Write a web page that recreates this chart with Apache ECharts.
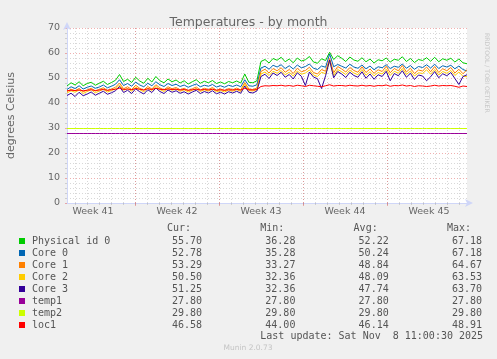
<!DOCTYPE html>
<html><head><meta charset="utf-8">
<script src="https://cdn.jsdelivr.net/npm/echarts@6/dist/echarts.min.js"></script>
<style>html,body{margin:0;padding:0;background:#f0f0f0}#c{width:497px;height:359px}</style>
</head><body><div id="c"></div>
<script>
// ---------- data ----------
const seriesNames = ['Physical id 0','Core 0','Core 1','Core 2','Core 3','temp1','temp2','loc1'];
const seriesColors = ['#00CC00','#0066B3','#FF8000','#FFCC00','#330099','#990099','#CCFF00','#FF0000'];

const physical = [46.8,48.1,47.2,48.5,46.9,47.8,48.3,47.1,47.9,48.7,47.4,48.2,49.1,51.4,48.6,49.5,48.2,50.3,48.8,47.9,49.9,48.4,50.6,48.9,48.1,49.6,48.5,49.2,48.0,48.9,47.6,48.5,49.3,47.9,48.7,48.1,49.0,47.8,48.4,47.7,48.6,48.1,48.8,48.0,51.6,48.3,48.1,48.9,
  56.6,57.4,56.0,57.8,57.1,58.3,56.5,57.6,56.1,58.0,56.8,57.3,58.6,56.4,55.9,57.7,57.0,60.3,57.4,58.9,57.9,56.6,58.4,57.2,56.7,58.1,56.5,57.6,56.0,57.3,56.9,58.0,56.4,57.5,57.1,58.5,56.6,57.8,56.2,57.4,57.0,58.1,56.7,58.3,56.5,57.7,57.1,57.9,56.4,57.6,56.1,55.7];
const core0 = [45.4,46.5,45.8,46.9,45.6,46.3,46.8,45.9,46.4,47.2,46.1,46.7,47.5,49.3,47.0,47.8,46.7,48.4,47.2,46.5,47.9,46.9,48.5,47.3,46.6,47.8,47.0,47.5,46.6,47.2,46.3,47.0,47.6,46.5,47.1,46.7,47.4,46.4,46.9,46.3,47.1,46.6,47.2,46.5,49.3,46.9,46.7,47.3,
  54.0,54.7,53.5,55.1,54.4,55.3,53.8,54.9,53.6,55.2,54.1,54.6,55.6,53.9,53.4,54.8,54.3,59.6,54.5,55.4,54.7,54.0,55.5,54.4,53.9,55.2,53.7,54.8,53.3,54.5,54.1,55.3,53.8,54.7,54.3,55.6,53.9,55.0,53.5,54.6,54.2,55.3,54.0,55.5,53.8,54.9,54.4,55.1,53.7,54.8,53.4,52.8];
const core1 = [44.6,45.5,44.9,45.8,44.5,45.2,45.9,44.8,45.4,46.1,45.0,45.6,46.3,48.0,45.7,46.5,45.4,47.1,45.9,45.2,46.6,45.6,47.3,46.0,45.3,46.5,45.7,46.2,45.3,45.9,45.0,45.7,46.4,45.2,45.9,45.4,46.2,45.1,45.6,45.0,45.8,45.3,46.0,45.2,48.2,45.6,45.4,46.0,
  52.6,53.5,52.0,53.8,52.9,54.1,52.3,53.4,51.8,53.9,52.5,53.0,54.3,52.2,51.6,53.4,52.7,57.8,52.1,54.6,53.6,52.4,54.2,53.0,52.3,54.5,52.2,53.6,51.9,53.3,52.6,54.7,52.1,53.8,52.9,55.0,52.4,53.9,51.8,53.2,52.8,54.4,52.5,54.6,52.2,53.7,52.9,54.2,52.0,53.5,51.7,53.3];
const core2 = [44.0,44.9,44.3,45.2,43.8,44.6,45.3,44.1,44.8,45.5,44.4,45.0,45.7,47.2,45.1,45.8,44.7,46.4,45.3,44.5,46.0,45.0,46.6,45.4,44.6,45.9,45.1,45.6,44.7,45.3,44.4,45.1,45.8,44.6,45.3,44.8,45.6,44.5,45.0,44.4,45.2,44.7,45.4,44.6,47.5,45.0,44.8,45.4,
  51.6,52.4,51.0,52.7,51.9,53.0,51.3,52.3,50.8,52.8,51.5,52.0,53.2,51.2,50.6,52.3,51.7,56.5,51.0,53.4,52.5,51.4,53.1,52.0,51.3,53.4,51.1,52.5,50.9,52.2,51.6,53.5,51.0,52.7,51.9,53.8,51.4,52.8,50.8,52.1,51.8,53.3,51.5,53.4,51.2,52.6,51.9,53.0,51.0,52.4,50.7,50.5];
const core3 = [43.0,43.9,42.6,44.3,42.9,43.6,44.4,43.1,43.9,44.7,43.5,44.1,44.9,46.6,44.2,45.1,43.8,45.7,44.5,43.6,45.3,44.2,46.0,44.6,43.8,45.2,44.3,44.9,43.9,44.5,43.6,44.4,45.1,43.8,44.6,44.0,44.9,43.7,44.3,43.6,44.5,44.0,44.7,43.9,46.8,44.3,44.0,44.8,
  50.6,51.5,49.8,52.0,51.0,52.3,50.3,51.4,49.6,52.1,50.7,47.0,52.4,50.4,49.7,45.8,50.9,57.2,50.1,52.6,51.6,50.2,52.3,51.0,50.3,52.5,49.9,51.6,49.5,51.3,50.6,52.7,48.9,51.8,50.9,52.9,50.3,51.9,49.4,51.2,50.8,48.9,50.5,52.6,50.1,51.7,50.9,52.2,49.8,47.4,50.6,51.3];
const temp1Level = 27.8;
const temp2Level = 29.8;
const loc1 = [44.9,45.1,45.0,45.2,44.9,45.1,45.3,45.0,45.2,45.4,45.1,45.3,45.5,45.9,45.4,45.6,45.3,45.8,45.5,45.2,45.7,45.4,45.9,45.5,45.3,45.6,45.4,45.5,45.2,45.4,45.1,45.3,45.5,45.2,45.4,45.2,45.5,45.1,45.3,45.1,45.3,45.2,45.4,45.2,45.9,45.3,45.2,45.4,
  46.6,46.9,46.8,47.0,46.9,47.1,46.8,47.0,46.7,47.1,46.9,46.6,47.1,46.9,46.7,46.5,46.9,47.3,46.8,47.0,47.0,46.8,47.1,46.9,46.8,47.1,46.8,47.0,46.7,47.0,46.9,47.2,46.7,47.0,46.9,47.2,46.8,47.0,46.6,46.9,46.8,46.6,46.8,47.1,46.8,47.0,46.9,47.0,46.7,46.3,46.8,46.6];

const curVals = ['55.70','52.78','53.29','50.50','51.25','27.80','29.80','46.58'];
const minVals = ['36.28','35.28','33.27','32.36','32.36','27.80','29.80','44.00'];
const avgVals = ['52.22','50.24','48.84','48.09','47.74','27.80','29.80','46.14'];
const maxVals = ['67.18','67.18','64.67','63.53','63.70','27.80','29.80','48.91'];
const statHeaders = ['Cur:','Min:','Avg:','Max:'];

const weekLabels = ['Week 41','Week 42','Week 43','Week 44','Week 45'];
const spanHours = 800;        // hours shown on the x axis
const firstWeekStart = 136;   // hours from left edge to first week boundary
const yMax = 70, yStep = 10;

// ---------- build ----------
const N = physical.length;
const hours = physical.map((_, i) => i * spanHours / (N - 1));
const temp1 = physical.map(() => temp1Level);
const temp2 = physical.map(() => temp2Level);
const allValues = [physical, core0, core1, core2, core3, temp1, temp2, loc1];

const midnights = [];
for (let h = firstWeekStart % 24; h <= spanHours; h += 24) midnights.push(h);
const weekStarts = [];
for (let h = firstWeekStart; h <= spanHours; h += 168) weekStarts.push(h);
const labelPos = weekLabels.map((_, i) => firstWeekStart - 84 + i * 168);

const sans = 'DejaVu Sans';
const mono = 'DejaVu Sans Mono';
const fontColor = '#666666';
const minorGrid = 'rgba(143,143,143,0.35)';
const majorGrid = 'rgba(222,79,79,0.45)';
const axisColor = '#CFD6F8';

const gridLeft = 67, gridTop = 28, gridW = 400, gridH = 175;
const legLeft = 14, legTop = 230, nameColW = 140, statColW = 93.3;
const colX0 = legLeft + 6 + 5 + 2 + nameColW;

const chart = echarts.init(document.getElementById('c'), null, {renderer: 'canvas'});
const option = {
  animation: false,
  backgroundColor: '#F0F0F0',
  title: {
    text: 'Temperatures - by month', left: 'center', top: 11,
    textStyle: {fontFamily: sans, fontSize: 12.5, fontWeight: 'normal', color: fontColor}
  },
  grid: {left: gridLeft, top: gridTop, width: gridW, height: gridH, show: true, backgroundColor: '#FFFFFF', borderWidth: 0,
         containLabel: false, outerBoundsMode: 'none'},
  xAxis: [
    {
      type: 'value', min: 0, max: spanHours, position: 'bottom',
      axisLine: {show: true, onZero: false, lineStyle: {color: axisColor}, symbol: ['none', 'arrow'], symbolSize: [6, 8], symbolOffset: [0, 6]},
      axisTick: {show: true, customValues: midnights, length: 2, lineStyle: {color: minorGrid}},
      axisLabel: {show: false},
      splitLine: {show: true, lineStyle: {color: minorGrid, type: [1, 2], width: 1}}
    },
    {
      type: 'value', min: 0, max: spanHours, position: 'bottom',
      axisLine: {show: false, onZero: false},
      axisTick: {show: true, customValues: weekStarts, length: 3, lineStyle: {color: majorGrid}},
      axisLabel: {show: false},
      splitLine: {show: true, lineStyle: {color: majorGrid, type: [1, 2], width: 1}}
    },
    {
      type: 'value', min: 0, max: spanHours, position: 'bottom',
      axisLine: {show: false, onZero: false},
      axisTick: {show: false},
      axisLabel: {
        show: true, customValues: labelPos, margin: 4,
        formatter: v => weekLabels[labelPos.findIndex(p => Math.abs(p - v) < 0.5)],
        fontFamily: sans, fontSize: 9.5, color: fontColor
      },
      splitLine: {show: false}
    }
  ],
  yAxis: {
    type: 'value', min: 0, max: yMax, interval: yStep,
    name: 'degrees Celsius', nameLocation: 'middle', nameGap: 50,
    nameTextStyle: {fontFamily: sans, fontSize: 11, color: fontColor},
    axisLine: {show: true, lineStyle: {color: axisColor}, symbol: ['none', 'arrow'], symbolSize: [6, 8], symbolOffset: [0, 6]},
    axisTick: {show: true, length: 2, lineStyle: {color: majorGrid}},
    minorTick: {show: true, splitNumber: 5, length: 2, lineStyle: {color: minorGrid}},
    axisLabel: {margin: 7, fontFamily: sans, fontSize: 9.5, color: fontColor},
    splitLine: {show: true, lineStyle: {color: majorGrid, type: [1, 2], width: 1}},
    minorSplitLine: {show: true, lineStyle: {color: minorGrid, type: [1, 2], width: 1}}
  },
  legend: {
    orient: 'vertical', left: legLeft, top: legTop, itemWidth: 6, itemHeight: 6, itemGap: 0,
    icon: 'rect', selectedMode: false, data: seriesNames,
    formatter: name => {
      const i = seriesNames.indexOf(name);
      return `{a|${name}}{b|${curVals[i]}}{b|${minVals[i]}}{b|${avgVals[i]}}{c|${maxVals[i]}}`;
    },
    textStyle: {
      fontFamily: mono, fontSize: 10, color: '#555', lineHeight: 12,
      rich: {
        a: {width: nameColW, padding: [0, 0, 0, 2], fontFamily: mono, fontSize: 10, color: '#555', lineHeight: 12},
        b: {width: statColW, fontFamily: mono, fontSize: 10, color: '#555', lineHeight: 12},
        c: {fontFamily: mono, fontSize: 10, color: '#555', lineHeight: 12}
      }
    }
  },
  graphic: [
    ...statHeaders.map((t, k) => ({
      type: 'text', x: colX0 + k * statColW, y: 228,
      style: {text: t, font: `10px "${mono}"`, fill: '#555', verticalAlign: 'middle'}
    })),
    {
      type: 'text', x: colX0 + statColW, y: 336,
      style: {text: 'Last update: Sat Nov  8 11:00:30 2025', font: `10px "${mono}"`, fill: '#555', verticalAlign: 'middle'}
    },
    {
      type: 'text', x: 248, y: 348,
      style: {text: 'Munin 2.0.73', font: `7.5px "${sans}"`, fill: '#c4c4c4', align: 'center', verticalAlign: 'middle'}
    },
    {
      type: 'text', x: 487, y: 33, rotation: -Math.PI / 2,
      style: {text: 'RRDTOOL / TOBI OETIKER', font: `6.2px "${sans}"`, fill: '#c8c8c8', align: 'left', verticalAlign: 'middle'}
    }
  ],
  series: seriesNames.map((n, i) => ({
    name: n, type: 'line', xAxisIndex: 0, yAxisIndex: 0,
    data: hours.map((h, j) => [h, allValues[i][j]]),
    showSymbol: false, symbol: 'none', silent: true,
    lineStyle: {width: 1, color: seriesColors[i]},
    itemStyle: {color: seriesColors[i]}
  }))
};
chart.setOption(option);
</script>
</body></html>
